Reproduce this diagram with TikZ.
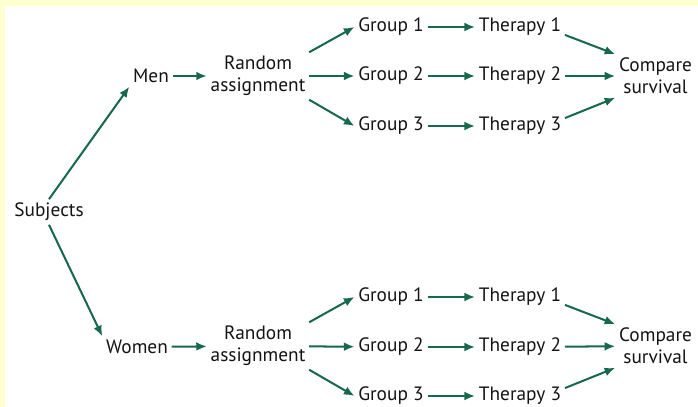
\documentclass[tikz,border=0pt]{standalone}
\usepackage{fontspec}
\setmainfont{PT Sans}
\usetikzlibrary{arrows.meta}
\definecolor{arrowgreen}{RGB}{22,104,78}
\definecolor{paleyellow}{RGB}{255,255,208}

\begin{document}
\begin{tikzpicture}[
    font=\fontsize{11}{12.5}\selectfont,
    lbl/.style={align=center, inner sep=2pt, text=black!92},
    arr/.style={-{Latex[length=6pt,width=5pt]}, line width=1.15pt, arrowgreen}
  ]
  % frame
  \fill[paleyellow] (0,0) rectangle (13.96,8.14);
  \fill[white] (0.1,0) rectangle (13.96,8.02);
  \useasboundingbox (0,0) rectangle (13.96,8.14);

  \node[lbl] (sub) at (0.98,3.90) {Subjects};

  % men
  \node[lbl] (men) at (3.02,6.62) {Men};
  \node[lbl] (ra1) at (5.16,6.62) {Random\\assignment};
  \node[lbl] (g11) at (7.82,7.60) {Group 1};
  \node[lbl] (g12) at (7.82,6.62) {Group 2};
  \node[lbl] (g13) at (7.82,5.62) {Group 3};
  \node[lbl] (t11) at (10.40,7.60) {Therapy 1};
  \node[lbl] (t12) at (10.40,6.62) {Therapy 2};
  \node[lbl] (t13) at (10.40,5.62) {Therapy 3};
  \node[lbl] (cs1) at (13.11,6.62) {Compare\\survival};

  % women
  \node[lbl] (women) at (2.74,1.20) {Women};
  \node[lbl] (ra2) at (5.16,1.22) {Random\\assignment};
  \node[lbl] (g21) at (7.82,2.20) {Group 1};
  \node[lbl] (g22) at (7.82,1.20) {Group 2};
  \node[lbl] (g23) at (7.82,0.22) {Group 3};
  \node[lbl] (t21) at (10.40,2.20) {Therapy 1};
  \node[lbl] (t22) at (10.40,1.20) {Therapy 2};
  \node[lbl] (t23) at (10.40,0.22) {Therapy 3};
  \node[lbl] (cs2) at (13.11,1.22) {Compare\\survival};

  \draw[arr] (sub.north) -- (men.south west);
  \draw[arr] (sub.south) -- (women.north west);

  \draw[arr] (men) -- (ra1);
  \draw[arr] (ra1.north east) -- (g11.west);
  \draw[arr] (ra1) -- (g12);
  \draw[arr] (ra1.south east) -- (g13.west);
  \draw[arr] (g11) -- (t11);
  \draw[arr] (g12) -- (t12);
  \draw[arr] (g13) -- (t13);
  \draw[arr] (t11.-10) -- (cs1.north west);
  \draw[arr] (t12) -- (cs1);
  \draw[arr] (t13.10) -- (cs1.south west);

  \draw[arr] (women) -- (ra2);
  \draw[arr] (ra2.north east) -- (g21.west);
  \draw[arr] (ra2) -- (g22);
  \draw[arr] (ra2.south east) -- (g23.west);
  \draw[arr] (g21) -- (t21);
  \draw[arr] (g22) -- (t22);
  \draw[arr] (g23) -- (t23);
  \draw[arr] (t21.-10) -- (cs2.north west);
  \draw[arr] (t22) -- (cs2);
  \draw[arr] (t23.10) -- (cs2.south west);
\end{tikzpicture}
\end{document}
